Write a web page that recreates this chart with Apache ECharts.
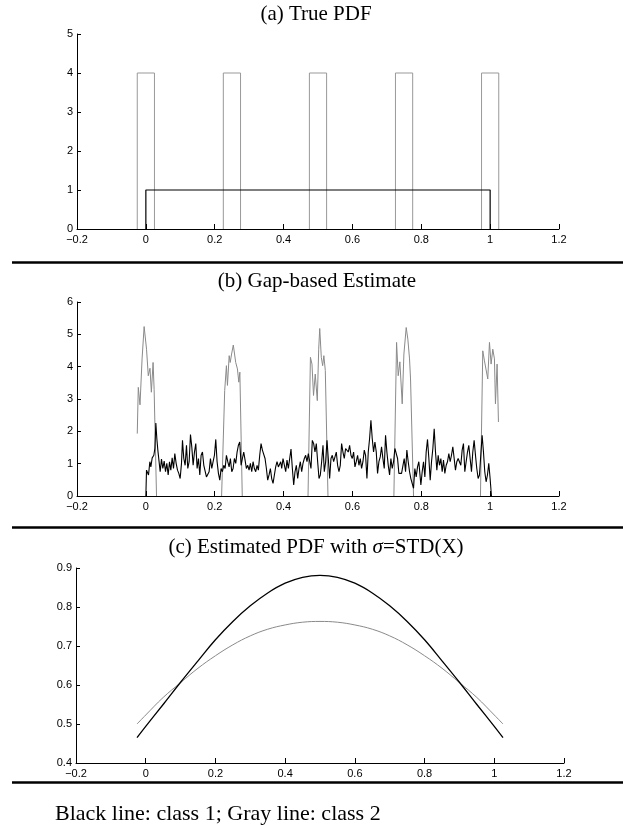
<!DOCTYPE html>
<html><head><meta charset="utf-8">
<script src="https://cdn.jsdelivr.net/npm/echarts@6/dist/echarts.min.js"></script>
<style>html,body{margin:0;padding:0;background:#fff}#c{width:623px;height:825px}</style>
</head><body><div id="c"></div>
<script>
// ---------- Data ----------
const xTicks = [-0.2, 0, 0.2, 0.4, 0.6, 0.8, 1, 1.2];
// (a) True PDF
const uniformX = [0, 0, 1, 1];
const uniformY = [0, 1, 1, 0];
const rectCenters = [0, 0.25, 0.5, 0.75, 1];
const rectHalfWidth = 0.025;
const rectHeight = 4;
// (b) Gap-based estimate, class 2 (gray), one list per cluster
const gapGrayX = [
  [-0.025,-0.022,-0.017,-0.011,-0.005,0.002,0.007,0.012,0.016,0.021,0.024,0.031],
  [0.220,0.229,0.234,0.237,0.242,0.245,0.249,0.254,0.261,0.266,0.270,0.273,0.280],
  [0.471,0.478,0.4825,0.487,0.492,0.498,0.502,0.505,0.5096,0.5135,0.517,0.5212,0.529],
  [0.7204,0.7282,0.733,0.7378,0.7446,0.7495,0.7562,0.761,0.7659,0.7688,0.7775],
  [0.9719,0.9786,0.9835,0.9883,0.9931,0.998,1.0028,1.0077,1.0125,1.0154,1.0202,1.0241]
];
const gapGrayY = [
  [1.93,3.36,2.82,4.24,5.24,4.54,3.72,3.95,3.21,4.13,3.3,0],
  [0,3.26,4.03,3.42,4.34,4.13,4.39,4.67,4.13,3.93,3.52,3.83,0],
  [0,4.29,4.08,3.11,3.77,2.95,4.54,5.18,4.29,4.03,4.34,3.88,0],
  [0,4.75,3.72,4.15,2.85,4.39,5.21,4.85,4.24,3.62,0],
  [0,4.49,4.18,4.13,3.62,4.75,4.08,4.54,4.24,2.85,4.08,2.29]
];
// (b) Gap-based estimate, class 1 (black)
const gapBlackX = [
0,0.0019,0.0049,0.0077,0.0116,0.0145,0.0184,0.0232,0.0261,0.0290,0.0319,0.0348,0.0377,0.0416,0.0454,0.0493,0.0532,0.0571,0.0609,0.0648,0.0687,0.0725,0.0764,0.0803,0.0841,0.0880,0.0919,0.0957,0.0996,0.1035,0.1064,0.1102,0.1141,0.1180,0.1218,0.1257,0.1296,0.1334,0.1373,0.1412,0.1450,0.1489,0.1528,0.1567,0.1605,0.1644,0.1683,0.1721,0.1760,0.1799,0.1837,0.1876,0.1915,0.1953,0.1992,0.2031,0.2069,0.2108,0.2147,0.2185,0.2224,0.2263,0.2302,0.2340,0.2379,0.2418,0.2456,0.2495,0.2534,0.2572,0.2611,0.2650,0.2688,0.2727,0.2766,0.2804,0.2843,0.2882,0.2920,0.2959,0.2998,0.3036,0.3075,0.3114,0.3152,0.3191,0.3230,0.3268,0.3307,0.3346,0.3385,0.3423,0.3462,0.3501,0.3539,0.3578,0.3617,0.3655,0.3694,0.3733,0.3771,0.3810,0.3849,0.3887,
0.3917,0.3946,0.3984,0.4023,0.4062,0.4100,0.4139,0.4178,0.4216,0.4255,0.4294,0.4332,0.4371,0.4410,0.4448,0.4487,0.4526,0.4564,0.4603,0.4642,0.4680,0.4719,0.4758,0.4796,0.4835,0.4874,0.4912,0.4951,0.4990,0.5029,0.5067,0.5106,0.5145,0.5183,0.5222,0.5261,0.5299,0.5338,0.5377,0.5415,0.5454,0.5493,0.5531,0.5570,0.5609,0.5647,0.5686,0.5725,0.5763,0.5802,0.5841,0.5879,0.5918,0.5957,0.5995,0.6034,0.6073,0.6111,0.6150,0.6189,0.6228,0.6266,0.6305,0.6344,0.6382,0.6421,0.6460,0.6498,0.6537,0.6576,0.6614,0.6653,0.6692,0.6730,0.6769,0.6808,0.6846,0.6885,0.6924,0.6962,0.7001,0.7040,0.7079,0.7117,0.7156,0.7195,0.7233,0.7272,0.7311,0.7349,0.7388,0.7427,0.7465,0.7504,0.7543,0.7581,0.7620,0.7659,0.7697,0.7736,0.7775,0.7813,0.7852,0.7891,0.7929,
0.7988,0.8026,0.8065,0.8104,0.8142,0.8181,0.8220,0.8259,0.8297,0.8336,0.8375,0.8413,0.8452,0.8491,0.8529,0.8568,0.8607,0.8645,0.8684,0.8723,0.8761,0.8800,0.8839,0.8877,0.8916,0.8955,0.8993,0.9032,0.9071,0.9109,0.9148,0.9187,0.9225,0.9264,0.9303,0.9342,0.9380,0.9419,0.9458,0.9496,0.9535,0.9574,0.9612,0.9651,0.9690,0.9728,0.9767,0.9806,0.9844,0.9883,0.9922,0.9960,0.9999,1.0038
];
const gapBlackY = [
0,0.80,0.85,0.65,1.06,0.90,1.18,1.26,1.47,2.26,1.77,1.42,1.36,0.75,1.14,0.85,1.08,0.75,1.01,0.65,1.06,0.80,1.18,0.85,1.31,1.01,0.80,0.70,0.54,1.01,1.72,1.16,0.95,1.57,0.85,1.06,1.90,1.52,0.95,1.36,1.62,0.85,1.16,0.65,1.26,1.36,0.95,1.01,0.59,0.54,0.75,1.16,0.85,1.06,1.26,1.75,1.06,0.70,0.49,0.85,0.75,0.95,0.85,1.26,1.06,0.90,1.16,0.75,0.85,1.16,1.01,1.36,1.57,1.67,0.95,1.16,1.36,1.11,0.85,0.95,0.80,1.01,0.75,1.06,0.85,0.75,0.95,0.80,1.26,1.62,1.42,1.47,1.16,0.85,0.49,0.65,0.85,0.54,0.39,0.65,0.90,1.06,0.90,0.95,
1.06,0.85,1.16,1.21,0.75,1.11,0.85,1.16,1.45,0.85,0.34,0.75,0.95,0.54,0.85,1.06,0.75,1.01,1.16,1.26,1.06,1.31,1.26,0.85,1.72,1.62,1.36,1.62,1.06,0.54,0.65,1.06,1.57,0.75,1.06,1.72,1.16,0.54,1.16,1.26,1.06,1.21,1.36,0.95,0.75,0.95,1.62,1.36,1.16,1.47,1.52,1.36,1.57,1.26,1.16,1.36,0.90,1.06,1.26,0.95,1.16,0.85,1.06,1.42,1.26,0.54,1.36,1.77,2.34,1.77,1.36,1.67,1.36,0.70,1.06,1.21,1.52,1.16,0.85,1.88,1.36,0.95,0.65,1.16,0.85,1.06,1.47,1.52,1.16,0.70,0.65,0.70,0.65,1.16,0.75,1.42,1.06,0.75,0.54,0.49,0.24,0.85,0.59,0.90,1.06,
0.34,0.75,1.06,0.59,1.36,1.75,1.16,0.49,1.06,1.47,2.08,1.36,0.80,1.26,0.95,1.16,0.75,1.11,0.70,0.95,1.06,1.31,1.06,1.26,1.52,1.16,0.80,1.06,1.16,1.21,0.95,1.42,1.62,0.75,1.06,1.36,1.57,1.16,0.75,1.36,1.72,1.26,0.85,0.54,0.65,1.26,1.88,1.36,0.75,0.44,0.65,1.01,0.54,0
];
// (c) Estimated PDF with sigma = STD(X)
const kdeX      = [-0.025,0,0.05,0.1,0.15,0.2,0.25,0.3,0.35,0.4,0.45,0.5,0.55,0.6,0.65,0.7,0.75,0.8,0.85,0.9,0.95,1,1.025];
const kdeBlackY = [0.465,0.494,0.550,0.607,0.662,0.716,0.763,0.803,0.836,0.861,0.876,0.881,0.876,0.861,0.836,0.803,0.763,0.716,0.662,0.607,0.550,0.494,0.465];
const kdeGrayY  = [0.500,0.523,0.568,0.606,0.643,0.675,0.703,0.726,0.743,0.754,0.761,0.763,0.761,0.754,0.743,0.726,0.703,0.675,0.643,0.606,0.568,0.523,0.500];

// ---------- Build ----------
const zip = (xs, ys) => xs.map((x, i) => [x, ys[i]]);
function clusters(xl, yl) {
  const out = [];
  xl.forEach((xs, k) => { if (k) out.push([xs[0], '-']); out.push(...zip(xs, yl[k])); });
  return out;
}
const rectData = [];
rectCenters.forEach((c, k) => {
  if (k) rectData.push([c - rectHalfWidth, '-']);
  rectData.push([c - rectHalfWidth, 0], [c - rectHalfWidth, rectHeight], [c + rectHalfWidth, rectHeight], [c + rectHalfWidth, 0]);
});

const SANS = 'Liberation Sans, Arial, sans-serif';
const SERIF = 'Liberation Serif, Times New Roman, serif';
const fmt = v => String(+v.toFixed(2)).replace('-', '\u2212');

function xAx(gi) {
  return {
    type: 'value', gridIndex: gi, min: -0.2, max: 1.2, interval: 0.2,
    axisLine: { onZero: false, lineStyle: { color: '#000', width: 1 } },
    axisTick: { inside: true, length: 5, lineStyle: { color: '#000' } },
    axisLabel: { color: '#000', fontFamily: SANS, fontSize: 11, margin: 5, formatter: fmt },
    splitLine: { show: false }
  };
}
function yAx(gi, min, max, interval) {
  return {
    type: 'value', gridIndex: gi, min, max, interval,
    axisLine: { show: true, onZero: false, lineStyle: { color: '#000', width: 1 } },
    axisTick: { show: true, inside: true, length: 4, lineStyle: { color: '#000' } },
    axisLabel: { color: '#000', fontFamily: SANS, fontSize: 11, margin: 4, formatter: fmt },
    splitLine: { show: false }
  };
}
function line(gi, data, color, width, smooth) {
  return { type: 'line', xAxisIndex: gi, yAxisIndex: gi, data, showSymbol: false, symbol: 'none',
    smooth: smooth || false,
    lineStyle: { color, width }, itemStyle: { color }, animation: false, connectNulls: false, z: 2 };
}
function sep(y) {
  return { type: 'line', shape: { x1: 12, y1: y, x2: 623, y2: y }, style: { stroke: '#000', lineWidth: 2.5 } };
}
function ttl(x, y, text) {
  return { type: 'text', x, y, style: { text, fill: '#000', font: '21px ' + SERIF, align: 'center', verticalAlign: 'middle' } };
}

const chart = echarts.init(document.getElementById('c'), null, { renderer: 'canvas' });
chart.setOption({
  backgroundColor: '#fff',
  animation: false,
  grid: [
    { left: 77, top: 34, width: 482, height: 195 },
    { left: 77, top: 302, width: 482, height: 194 },
    { left: 76, top: 568, width: 488, height: 195 }
  ],
  xAxis: [xAx(0), xAx(1), xAx(2)],
  yAxis: [yAx(0, 0, 5, 1), yAx(1, 0, 6, 1), yAx(2, 0.4, 0.9, 0.1)],
  series: [
    line(0, rectData, '#999999', 1),
    line(0, zip(uniformX, uniformY), '#000000', 1.2),
    line(1, clusters(gapGrayX, gapGrayY), '#8a8a8a', 1),
    line(1, zip(gapBlackX, gapBlackY), '#000000', 1.1),
    line(2, zip(kdeX, kdeGrayY), '#8a8a8a', 1, 0.4),
    line(2, zip(kdeX, kdeBlackY), '#000000', 1.3, 0.4)
  ],
  graphic: [
    ttl(316, 14, '(a) True PDF'),
    ttl(317, 281, '(b) Gap-based Estimate'),
    {
      type: 'text', x: 316, y: 547,
      style: {
        text: '{n|(c) Estimated PDF with }{s|σ}{n|=STD(X)}',
        align: 'center', verticalAlign: 'middle', fill: '#000',
        rich: {
          n: { fontFamily: SERIF, fontSize: 21, fill: '#000' },
          s: { fontFamily: SERIF, fontSize: 21, fontStyle: 'italic', fill: '#000' }
        }
      }
    },
    sep(262.5), sep(527.5), sep(782.5),
    { type: 'text', x: 55, y: 814, style: { text: 'Black line: class 1; Gray line: class 2', fill: '#000', font: '22px ' + SERIF, align: 'left', verticalAlign: 'middle' } }
  ]
});
</script></body></html>
